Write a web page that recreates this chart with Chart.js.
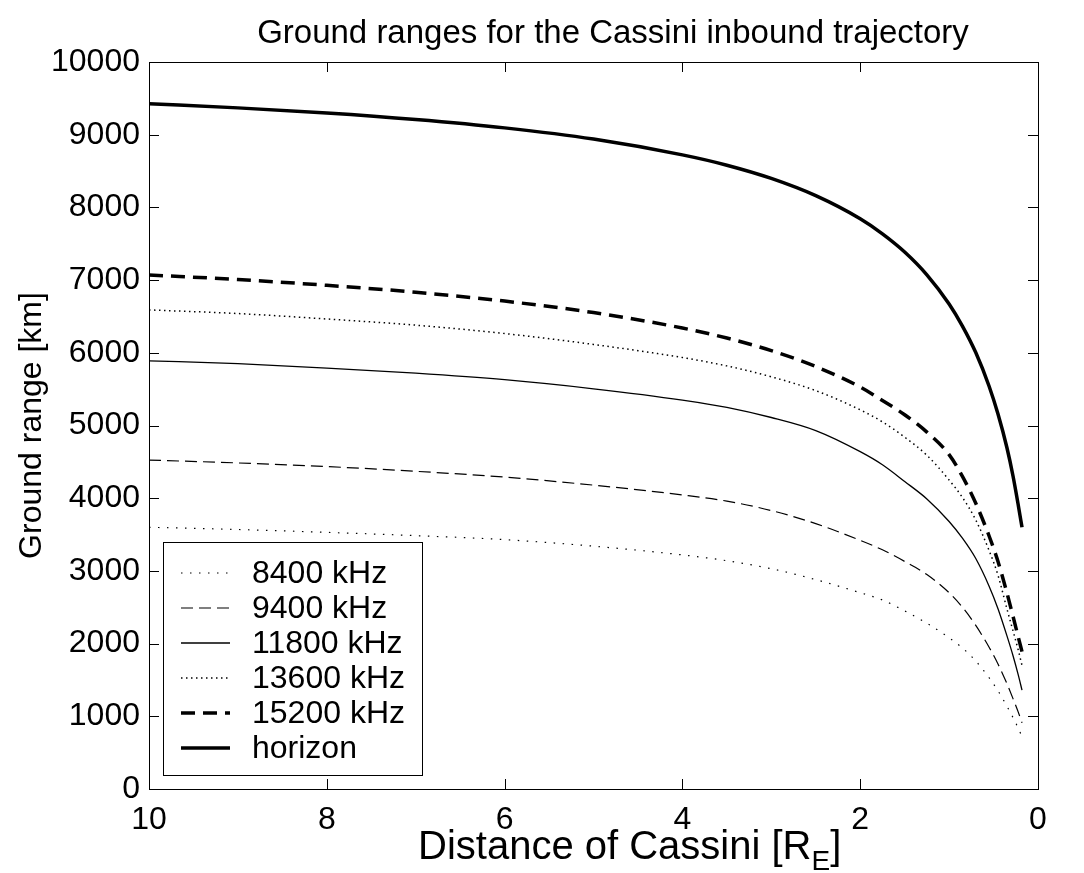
<!DOCTYPE html>
<html>
<head>
<meta charset="utf-8">
<script src="https://cdn.jsdelivr.net/npm/chart.js@4.4.1/dist/chart.umd.min.js"></script>
<style>
html, body { margin: 0; padding: 0; background: #fff; }
#wrap { width: 1084px; height: 873px; }
</style>
</head>
<body>
<div id="wrap"><canvas id="rangeChart" width="1084" height="873"></canvas></div>
<script>
// Distance of Cassini [R_E]
const distances = [10, 9, 8, 7, 6, 5, 4, 3.5, 3, 2.5, 2, 1.75, 1.5, 1.25, 1, 0.85, 0.7, 0.55, 0.45, 0.35, 0.28, 0.22, 0.18];

// Ground range [km] per frequency
const range8400  = [3600, 3570, 3530, 3485, 3430, 3340, 3220, 3140, 3030, 2880, 2700, 2600, 2450, 2280, 2080, 1940, 1760, 1530, 1350, 1140, 980, 830, 720];
const range9400  = [4525, 4485, 4435, 4370, 4290, 4180, 4045, 3960, 3830, 3650, 3420, 3290, 3130, 2950, 2700, 2500, 2250, 1950, 1720, 1450, 1240, 1050, 910];
const range11800 = [5890, 5850, 5790, 5720, 5630, 5505, 5350, 5250, 5110, 4930, 4640, 4460, 4230, 3990, 3680, 3450, 3170, 2790, 2480, 2110, 1830, 1560, 1360];
const range13600 = [6590, 6540, 6465, 6380, 6265, 6115, 5935, 5820, 5670, 5480, 5215, 5050, 4840, 4590, 4250, 4010, 3700, 3280, 2940, 2480, 2170, 1900, 1700];
const range15200 = [7070, 7008, 6928, 6833, 6711, 6553, 6341, 6203, 6030, 5811, 5529, 5345, 5148, 4909, 4600, 4300, 3930, 3480, 3130, 2700, 2370, 2080, 1890];
const rangeHorizon = [9427, 9369, 9299, 9209, 9094, 8940, 8722, 8580, 8398, 8161, 7843, 7636, 7386, 7073, 6672, 6368, 6003, 5540, 5158, 4697, 4298, 3890, 3600];

const seriesLabels = ['8400 kHz', '9400 kHz', '11800 kHz', '13600 kHz', '15200 kHz', 'horizon'];

const xTicks = [10, 8, 6, 4, 2, 0];
const yTicks = [0, 1000, 2000, 3000, 4000, 5000, 6000, 7000, 8000, 9000, 10000];

const FONT = "'Liberation Sans', Arial, Helvetica, sans-serif";
const FONT_SIZE = 32;
const TITLE_SIZE = 33;
const XLABEL_SIZE = 40;

function toPoints(values) {
    return distances.map((d, i) => ({ x: d, y: values[i] }));
}

function lineSet(label, values, width, dash) {
    return {
        label: label,
        data: toPoints(values),
        borderColor: '#000',
        borderWidth: width,
        borderDash: dash,
        pointRadius: 0,
        fill: false,
        cubicInterpolationMode: 'monotone'
    };
}

// 边框、向内刻度、图例、标题和坐标轴标题
const decorPlugin = {
    id: 'decor',
    afterDatasetsDraw(chart) {
        const ctx = chart.ctx;
        const area = chart.chartArea;
        const xs = chart.scales.x;
        const ys = chart.scales.y;
        const tickLen = 10;

        ctx.save();
        ctx.strokeStyle = '#000';
        ctx.lineWidth = 1;
        ctx.setLineDash([]);
        ctx.strokeRect(area.left + 0.5, area.top + 0.5, area.right - area.left, area.bottom - area.top);

        ctx.beginPath();
        xTicks.forEach(v => {
            const px = Math.round(xs.getPixelForValue(v)) + 0.5;
            ctx.moveTo(px, area.bottom); ctx.lineTo(px, area.bottom - tickLen);
            ctx.moveTo(px, area.top); ctx.lineTo(px, area.top + tickLen);
        });
        yTicks.forEach(v => {
            const py = Math.round(ys.getPixelForValue(v)) + 0.5;
            ctx.moveTo(area.left, py); ctx.lineTo(area.left + tickLen, py);
            ctx.moveTo(area.right, py); ctx.lineTo(area.right - tickLen, py);
        });
        ctx.stroke();

        // 图例
        const box = { x: 163, y: 542, w: 259, h: 233 };
        ctx.fillStyle = '#fff';
        ctx.fillRect(box.x, box.y, box.w, box.h);
        ctx.strokeRect(box.x + 0.5, box.y + 0.5, box.w, box.h);
        ctx.font = FONT_SIZE + 'px ' + FONT;
        ctx.textBaseline = 'middle';
        ctx.textAlign = 'left';
        chart.data.datasets.forEach((ds, i) => {
            const y = 573 + i * 35;
            ctx.strokeStyle = '#000';
            ctx.lineWidth = ds.borderWidth;
            ctx.setLineDash(ds.borderDash || []);
            ctx.beginPath();
            ctx.moveTo(181, y);
            ctx.lineTo(230, y);
            ctx.stroke();
            ctx.setLineDash([]);
            ctx.fillStyle = '#000';
            ctx.fillText(ds.label, 252, y + 1);
        });

        // 标题
        ctx.fillStyle = '#000';
        ctx.textAlign = 'center';
        ctx.textBaseline = 'alphabetic';
        ctx.font = TITLE_SIZE + 'px ' + FONT;
        ctx.fillText('Ground ranges for the Cassini inbound trajectory', 613, 43);

        // x轴标题（带下标）
        const main = 'Distance of Cassini [R';
        const sub = 'E';
        const tail = ']';
        const subSize = 28;
        ctx.textAlign = 'left';
        ctx.font = XLABEL_SIZE + 'px ' + FONT;
        const wMain = ctx.measureText(main).width;
        ctx.font = subSize + 'px ' + FONT;
        const wSub = ctx.measureText(sub).width;
        const tx = 418;
        const base = 859;
        ctx.font = XLABEL_SIZE + 'px ' + FONT;
        ctx.fillText(main, tx, base);
        ctx.font = subSize + 'px ' + FONT;
        ctx.fillText(sub, tx + wMain, base + 11);
        ctx.font = XLABEL_SIZE + 'px ' + FONT;
        ctx.fillText(tail, tx + wMain + wSub, base);

        // y轴标题
        ctx.translate(32, (area.top + area.bottom) / 2);
        ctx.rotate(-Math.PI / 2);
        ctx.textAlign = 'center';
        ctx.textBaseline = 'middle';
        ctx.font = FONT_SIZE + 'px ' + FONT;
        ctx.fillText('Ground range [km]', 0, 0);
        ctx.restore();
    }
};

function initRangeChart() {
    const canvas = document.getElementById('rangeChart');
    Chart.defaults.font.family = FONT;
    Chart.defaults.color = '#000';

    new Chart(canvas, {
        type: 'line',
        data: {
            datasets: [
                lineSet(seriesLabels[0], range8400, 1.2, [1.5, 7.5]),
                lineSet(seriesLabels[1], range9400, 1.2, [12, 6]),
                lineSet(seriesLabels[2], range11800, 1.3, []),
                lineSet(seriesLabels[3], range13600, 1.5, [1.5, 3.5]),
                lineSet(seriesLabels[4], range15200, 3.5, [14, 8]),
                lineSet(seriesLabels[5], rangeHorizon, 3.5, [])
            ]
        },
        options: {
            responsive: false,
            animation: false,
            layout: { padding: { left: 0, right: 46, top: 62, bottom: 0 } },
            plugins: {
                legend: { display: false },
                tooltip: { enabled: false },
                title: { display: false }
            },
            scales: {
                x: {
                    type: 'linear',
                    min: 0,
                    max: 10,
                    reverse: true,
                    grid: { display: false, drawTicks: false },
                    border: { display: false },
                    afterFit: s => { s.height = 84; },
                    afterBuildTicks: s => { s.ticks = xTicks.map(v => ({ value: v })); },
                    ticks: {
                        padding: 12,
                        maxRotation: 0,
                        font: { size: FONT_SIZE },
                        callback: v => String(v)
                    }
                },
                y: {
                    type: 'linear',
                    min: 0,
                    max: 10000,
                    grid: { display: false, drawTicks: false },
                    border: { display: false },
                    afterFit: s => { s.width = 149; },
                    afterBuildTicks: s => { s.ticks = yTicks.map(v => ({ value: v })); },
                    ticks: {
                        padding: 9,
                        font: { size: FONT_SIZE },
                        callback: v => String(v)
                    }
                }
            }
        },
        plugins: [decorPlugin]
    });
}

document.addEventListener('DOMContentLoaded', initRangeChart);
</script>
</body>
</html>
